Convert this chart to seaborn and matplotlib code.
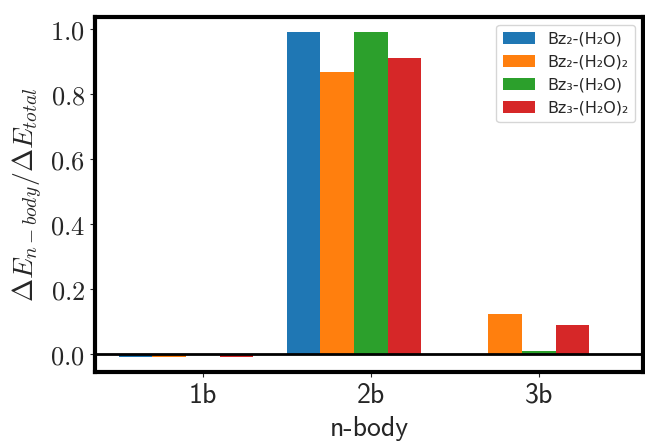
import pandas as pd
import seaborn as sns
from matplotlib import pyplot as plt
from matplotlib import ticker as ticktools

# n-body contributions
nbody = ["1b", "2b", "3b"]
systems = ["Bz₂-(H₂O)", "Bz₂-(H₂O)₂", "Bz₃-(H₂O)", "Bz₃-(H₂O)₂"]
bz2_h2o = [-0.008, 0.990, 0.0]
bz2_h2o2 = [-0.008, 0.867, 0.125]
bz3_h2o = [0.0, 0.990, 0.010]
bz3_h2o2 = [-0.009, 0.910, 0.091]

rows = []
for name, vals in zip(systems, [bz2_h2o, bz2_h2o2, bz3_h2o, bz3_h2o2]):
    for nb, v in zip(nbody, vals):
        rows.append({"n-body": nb, "frac": v, "system": name})
df = pd.DataFrame(rows)

sns.set_style("ticks")
plt.rcParams["mathtext.fontset"] = "cm"

fig = plt.figure(figsize=(6.45, 4.41), dpi=100)
ax = fig.add_axes([0.147, 0.156, 0.850, 0.805])

sns.barplot(data=df, x="n-body", y="frac", hue="system", order=nbody,
            hue_order=systems, palette="tab10", saturation=1, width=0.8,
            errorbar=None, linewidth=0, edgecolor="none", ax=ax)

ax.axhline(0, color="black", lw=2)

ax.set_xlim(-0.543, 2.72)
ax.set_ylim(-0.055, 1.037)
ax.set_xticks([0.1, 1.1, 2.1])
ax.set_xticklabels(nbody, fontfamily="cmss10", fontsize=20)
ax.yaxis.set_major_locator(ticktools.MultipleLocator(0.2))
ax.yaxis.set_major_formatter(ticktools.FormatStrFormatter("$%.1f$"))
ax.tick_params(axis="y", labelsize=19)
ax.tick_params(axis="x", pad=4)

ax.set_xlabel("n-body", fontfamily="cmss10", fontsize=20, labelpad=6)
ax.set_ylabel(r"$\Delta E_{n-body}/\Delta E_{total}$", fontsize=20)

for s in ax.spines.values():
    s.set_linewidth(3)
    s.set_color("black")

ax.legend(loc="upper right", fontsize=11.5, title=None)

fig.savefig("out.png", dpi=100)
